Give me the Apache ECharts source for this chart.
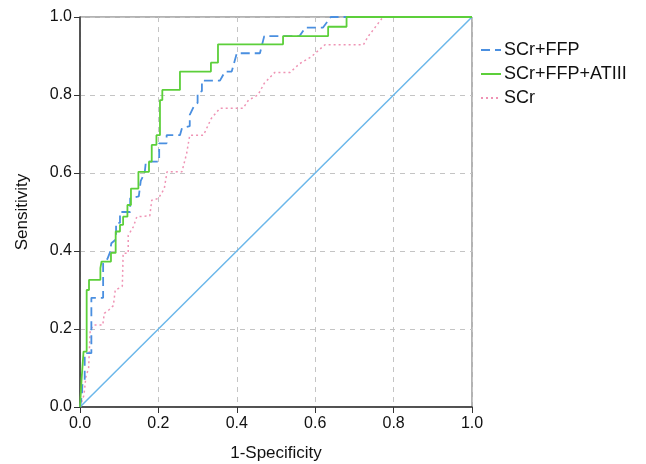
<!DOCTYPE html>
<html><head><meta charset="utf-8">
<script src="https://cdn.jsdelivr.net/npm/echarts@6/dist/echarts.min.js"></script>
<style>html,body{margin:0;padding:0;background:#fff}#c{width:646px;height:464px}</style>
</head><body><div id="c"></div>
<script>
const tickLabels = ['0.0','0.2','0.4','0.6','0.8','1.0'];
const seriesNames = ['SCr+FFP','SCr+FFP+ATIII','SCr'];

const ffpX = [0,0.005,0.006,0.012,0.012,0.029,0.029,0.059,0.059,0.07,0.076,0.08,0.092,0.092,0.102,0.102,0.128,0.128,0.15,0.155,0.165,0.168,0.202,0.202,0.221,0.221,0.255,0.26,0.28,0.28,0.29,0.3,0.3,0.311,0.311,0.357,0.37,0.387,0.4,0.459,0.47,0.56,0.575,0.62,0.64,1];
const ffpY = [0,0.03,0.056,0.07,0.138,0.138,0.28,0.28,0.369,0.38,0.395,0.42,0.43,0.472,0.472,0.5,0.5,0.535,0.54,0.58,0.6,0.629,0.629,0.676,0.676,0.697,0.697,0.715,0.72,0.749,0.77,0.78,0.805,0.81,0.837,0.837,0.86,0.86,0.907,0.907,0.951,0.951,0.973,0.973,1,1];

const atX = [0,0.004,0.004,0.009,0.009,0.017,0.017,0.023,0.023,0.052,0.052,0.055,0.055,0.079,0.079,0.091,0.091,0.102,0.102,0.11,0.11,0.121,0.121,0.13,0.13,0.149,0.149,0.176,0.176,0.183,0.183,0.195,0.195,0.204,0.204,0.21,0.21,0.255,0.255,0.334,0.334,0.352,0.352,0.518,0.518,0.633,0.633,0.68,0.68,1];
const atY = [0,0,0.07,0.07,0.142,0.142,0.3,0.3,0.326,0.326,0.356,0.356,0.373,0.373,0.395,0.395,0.45,0.45,0.467,0.467,0.488,0.488,0.518,0.518,0.56,0.56,0.603,0.603,0.629,0.629,0.672,0.672,0.697,0.697,0.787,0.787,0.813,0.813,0.86,0.86,0.883,0.883,0.93,0.93,0.951,0.951,0.975,0.975,1,1];

const scrX = [0,0.01,0.015,0.022,0.026,0.035,0.058,0.062,0.075,0.085,0.09,0.1,0.108,0.11,0.123,0.123,0.136,0.145,0.178,0.183,0.2,0.215,0.222,0.26,0.272,0.28,0.315,0.335,0.357,0.416,0.43,0.454,0.47,0.497,0.536,0.56,0.59,0.625,0.723,0.735,0.773,1];
const scrY = [0,0.03,0.077,0.1,0.197,0.21,0.21,0.24,0.25,0.26,0.3,0.305,0.31,0.394,0.394,0.44,0.462,0.488,0.49,0.53,0.535,0.56,0.603,0.603,0.65,0.697,0.697,0.74,0.766,0.766,0.787,0.8,0.83,0.858,0.858,0.88,0.898,0.929,0.929,0.95,1,1];

const refX = [0,1];
const refY = [0,1];

const zip = (a,b) => a.map((v,i)=>[v,b[i]]);
const font = '"Liberation Sans", Arial, sans-serif';

const chart = echarts.init(document.getElementById('c'), null, {renderer:'canvas'});
chart.setOption({
  animation:false,
  backgroundColor:'#fff',
  grid:{left:80,right:174,top:17,bottom:57,show:true,borderColor:'#666',borderWidth:1,backgroundColor:'transparent',outerBoundsMode:'none',containLabel:false},
  legend:{
    orient:'vertical', left:475, top:36, itemWidth:20, itemHeight:14, itemGap:6,
    data:seriesNames,
    itemStyle:{opacity:0},
    textStyle:{fontFamily:font,fontSize:18,color:'#111',padding:[0,0,0,-2]}
  },
  xAxis:{type:'value',min:0,max:1,interval:0.2,
    name:'1-Specificity',nameLocation:'middle',nameGap:38,
    nameTextStyle:{fontFamily:font,fontSize:17,color:'#111'},
    axisLine:{lineStyle:{color:'#333',width:1.5}},
    axisTick:{show:true,length:6,lineStyle:{color:'#333'}},
    axisLabel:{fontFamily:font,fontSize:16,color:'#111',margin:9,formatter:(v)=>tickLabels[Math.round(v*5)]},
    splitLine:{show:true,lineStyle:{color:'#c4c4c4',type:[5,5]}}
  },
  yAxis:{type:'value',min:0,max:1,interval:0.2,
    name:'Sensitivity',nameLocation:'middle',nameGap:49,nameRotate:90,
    nameTextStyle:{fontFamily:font,fontSize:17,color:'#111'},
    axisLine:{lineStyle:{color:'#333',width:1.5}},
    axisTick:{show:true,length:6,lineStyle:{color:'#333'}},
    axisLabel:{fontFamily:font,fontSize:16,color:'#111',margin:8,formatter:(v)=>tickLabels[Math.round(v*5)]},
    splitLine:{show:true,lineStyle:{color:'#c4c4c4',type:[5,5]}}
  },
  series:[
    {name:'ref',type:'line',data:zip(refX,refY),showSymbol:false,symbol:'none',lineStyle:{color:'#6bb7ea',width:1.5},z:1},
    {name:'SCr',type:'line',data:zip(scrX,scrY),showSymbol:false,symbol:'none',itemStyle:{color:'#ef93b4'},lineStyle:{color:'#ef93b4',width:1.5,type:[2,3]},z:2},
    {name:'SCr+FFP',type:'line',data:zip(ffpX,ffpY),showSymbol:false,symbol:'none',itemStyle:{color:'#4a8fe0'},lineStyle:{color:'#4a8fe0',width:1.8,type:[9,5]},z:3},
    {name:'SCr+FFP+ATIII',type:'line',data:zip(atX,atY),showSymbol:false,symbol:'none',itemStyle:{color:'#5ccf3a'},lineStyle:{color:'#5ccf3a',width:1.8},z:4}
  ]
});
</script></body></html>
